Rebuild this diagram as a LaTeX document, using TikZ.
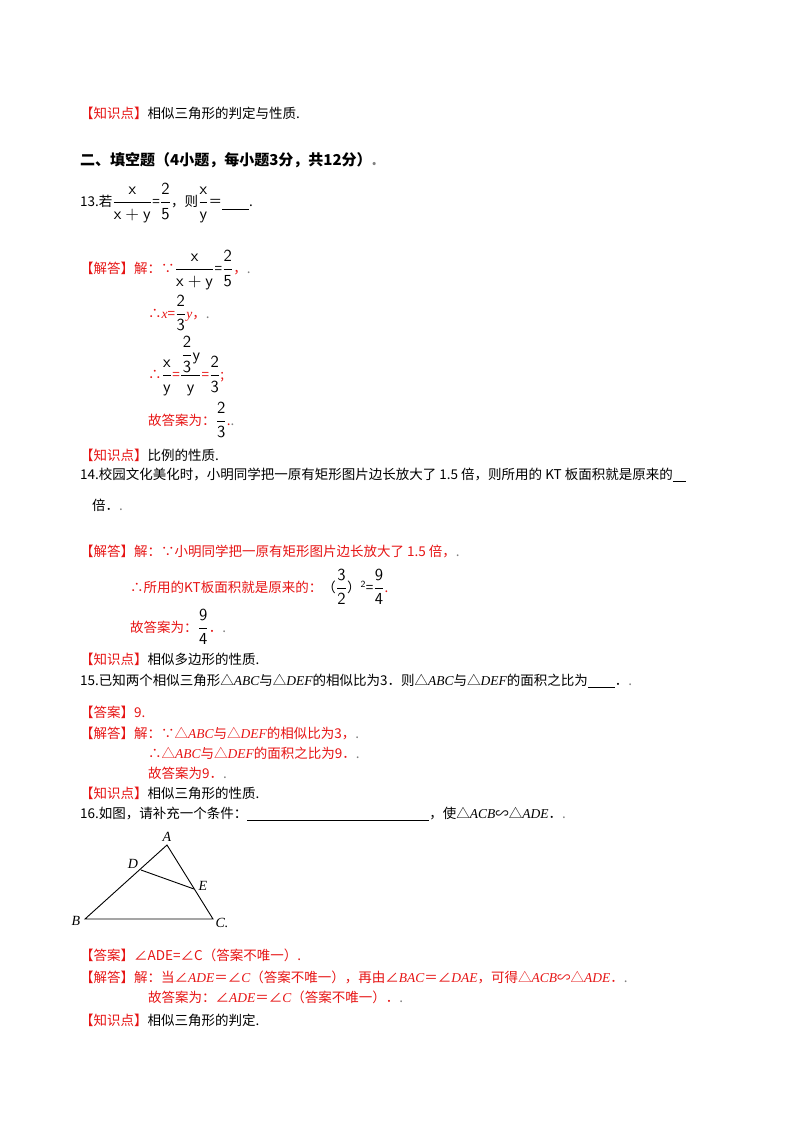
\documentclass[tikz,border=0pt]{standalone}
\usepackage{amsmath}
\usepackage{fontspec}
\setmainfont{Noto Sans CJK SC}
\newfontfamily\lat{Liberation Serif}
\usepackage{amssymb}
\usepackage{graphicx}
\definecolor{ansred}{RGB}{230,20,20}
\newcommand{\R}[1]{\textcolor{ansred}{#1}}
\newcommand{\fr}[2]{\scalebox{1.25}{$\dfrac{\mathsf{#1}}{\mathsf{#2}}$}}
\newcommand{\fn}[2]{\scalebox{1.25}{$\dfrac{\mathsf{#1}}{\mathsf{#2}}$}}
\newcommand{\iv}[1]{{\lat\itshape #1}}
\begin{document}
\begin{tikzpicture}[x=1pt,y=-1pt,
  ln/.style={anchor=west,inner sep=0pt,font=\fontsize{13.5}{16}\selectfont},
  lbl/.style={inner sep=0pt,font=\fontsize{14}{15}\selectfont\lat\itshape}]
\useasboundingbox (0,0) rectangle (800,1132);
\node[ln] (t1) at (80,113) {\R{【知识点】}相似三角形的判定与性质.};
\node[ln,font=\fontsize{15}{18}\bfseries] (t2) at (80,160) {二、填空题（4小题，每小题3分，共12分）\textcolor{gray}{.}};
\node[ln] (t3) at (80,203) {13.若\fr{x}{x+y}=\fn{2}{5}，则\fr{x}{y}＝\underline{\hspace{2em}}.};
\node[ln] (t4) at (80,270) {\R{【解答】解：∵}\fr{x}{x+y}=\fn{2}{5}\R{，}\textcolor{gray}{.}};
\node[ln] (t5) at (148,313) {\R{∴\iv{x}=}\fn{2}{3}\R{\iv{y}，}\textcolor{gray}{.}};
\node[ln] (t6) at (148,366) {\R{∴}\fr{x}{y}\R{=}\scalebox{1.25}{$\dfrac{\dfrac{\mathsf2}{\mathsf3}\mathsf{y}}{\mathsf{y}}$}\R{=}\fn{2}{3}\R{;}};
\node[ln] (t7) at (148,420) {\R{故答案为：}\fn{2}{3}\R{.}\textcolor{gray}{.}};
\node[ln] (t8) at (80,455) {\R{【知识点】}比例的性质.};
\node[ln] (t9) at (80,475) {14.校园文化美化时，小明同学把一原有矩形图片边长放大了 1.5 倍，则所用的 KT 板面积就是原来的\underline{\hspace{1em}}};
\node[ln] (t10) at (92,505) {倍．\textcolor{gray}{.}};
\node[ln] (t11) at (80,551) {\R{【解答】解：∵小明同学把一原有矩形图片边长放大了 1.5 倍，}\textcolor{gray}{.}};
\node[ln] (t12) at (130,587) {\R{∴所用的KT板面积就是原来的：}（\fn{3}{2}）$^{\mathsf2}$=\fn{9}{4}\R{.}};
\node[ln] (t13) at (130,627) {\R{故答案为：}\fn{9}{4}\R{．}\textcolor{gray}{.}};
\node[ln] (t14) at (80,659) {\R{【知识点】}相似多边形的性质.};
\node[ln] (t15) at (80,681) {15.已知两个相似三角形△\iv{ABC}与△\iv{DEF}的相似比为3．则△\iv{ABC}与△\iv{DEF}的面积之比为\underline{\hspace{2em}}．\textcolor{gray}{.}};
\node[ln] (t16) at (80,712) {\R{【答案】9.}};
\node[ln] (t17) at (80,734) {\R{【解答】解：∵△\iv{ABC}与△\iv{DEF}的相似比为3，}\textcolor{gray}{.}};
\node[ln] (t18) at (148,753) {\R{∴△\iv{ABC}与△\iv{DEF}的面积之比为9．}\textcolor{gray}{.}};
\node[ln] (t19) at (148,773) {\R{故答案为9．}\textcolor{gray}{.}};
\node[ln] (t20) at (80,793) {\R{【知识点】}相似三角形的性质.};
\node[ln] (t21) at (80,814) {16.如图，请补充一个条件：\underline{\hspace{182pt}}，使△\iv{ACB}∽△\iv{ADE}．\textcolor{gray}{.}};
\coordinate (A) at (167,845);
\coordinate (B) at (85,919);
\coordinate (C) at (213,919);
\coordinate (D) at (141,870);
\coordinate (E) at (194,889);
\draw[line width=0.9pt] (A) -- (B) -- (C) -- cycle;
\draw[line width=0.9pt] (D) -- (E);
\node[lbl] (la) at (167,837) {A};
\node[lbl] (ld) at (133,864) {D};
\node[lbl] (le) at (203,886) {E};
\node[lbl] (lb) at (76,921) {B};
\node[lbl] (lc) at (222,923) {C.};
\node[ln] (t22) at (80,955) {\R{【答案】∠ADE=∠C（答案不唯一）.}};
\node[ln] (t23) at (80,977) {\R{【解答】解：当∠\iv{ADE}＝∠\iv{C}（答案不唯一），再由∠\iv{BAC}＝∠\iv{DAE}，可得△\iv{ACB}∽△\iv{ADE}．}\textcolor{gray}{.}};
\node[ln] (t24) at (148,997) {\R{故答案为：∠\iv{ADE}＝∠\iv{C}（答案不唯一）．}\textcolor{gray}{.}};
\node[ln] (t25) at (80,1020) {\R{【知识点】}相似三角形的判定.};
\end{tikzpicture}
\end{document}
